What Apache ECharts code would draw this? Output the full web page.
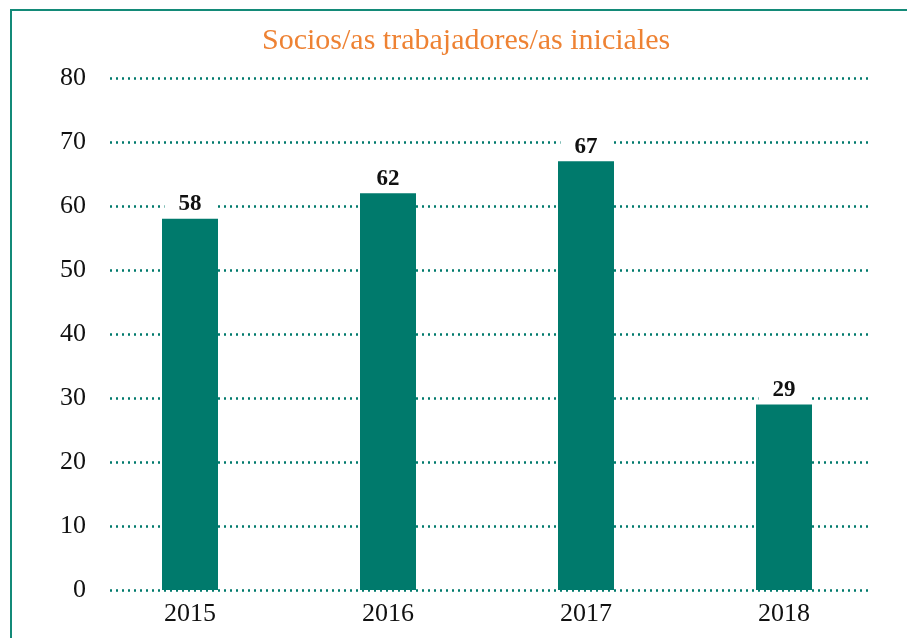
<!DOCTYPE html>
<html>
<head>
<meta charset="utf-8">
<script src="https://cdn.jsdelivr.net/npm/echarts@6/dist/echarts.min.js"></script>
<style>
  html, body { margin: 0; padding: 0; background: #fff; }
  #chart { width: 907px; height: 638px; }
</style>
</head>
<body>
<div id="chart"></div>
<script>
var years = ['2015', '2016', '2017', '2018']
var socios = [58, 62, 67, 29]
var yTicks = [0, 10, 20, 30, 40, 50, 60, 70, 80]

var TEAL = '#007A6C'
var ORANGE = '#EE8233'
var SERIF = '"Liberation Serif", "DejaVu Serif", serif'

var chart = echarts.init(document.getElementById('chart'))

var option = {
  backgroundColor: '#fff',
  animation: false,
  title: {
    text: 'Socios/as trabajadores/as iniciales',
    left: 257,
    top: 21,
    textStyle: { color: ORANGE, fontFamily: SERIF, fontSize: 30, fontWeight: 'normal' }
  },
  graphic: [{
    type: 'rect',
    shape: { x: 11, y: 10, width: 920, height: 660 },
    style: { fill: 'none', stroke: '#138a78', lineWidth: 2 },
    silent: true
  }],
  grid: [
    { left: 110, right: 39, top: 78, bottom: 48 },
    { left: 91, right: 24, top: 78, bottom: 48 }
  ],
  xAxis: [
    { gridIndex: 0, type: 'category', data: years, show: false },
    {
      gridIndex: 1,
      type: 'category',
      data: years,
      axisLine: { show: false },
      axisTick: { show: false },
      axisLabel: { color: '#111', fontFamily: SERIF, fontSize: 26, margin: 11 }
    }
  ],
  yAxis: [
    {
      gridIndex: 0,
      type: 'value',
      min: yTicks[0],
      max: yTicks[yTicks.length - 1],
      interval: 10,
      axisLine: { show: false },
      axisTick: { show: false },
      axisLabel: { color: '#111', fontFamily: SERIF, fontSize: 26, margin: 24 },
      splitLine: { lineStyle: { color: TEAL, width: 2.5, type: [2, 4] } }
    },
    {
      gridIndex: 1,
      type: 'value',
      min: yTicks[0],
      max: yTicks[yTicks.length - 1],
      interval: 10,
      show: false,
      splitLine: { show: false }
    }
  ],
  series: [{
    name: 'Socios/as trabajadores/as iniciales',
    type: 'bar',
    xAxisIndex: 1,
    yAxisIndex: 1,
    data: socios,
    barWidth: 56,
    itemStyle: { color: TEAL },
    label: {
      show: true,
      position: 'top',
      distance: 3,
      color: '#111',
      fontFamily: SERIF,
      fontSize: 23,
      fontWeight: 'bold',
      backgroundColor: '#fff',
      padding: [1, 14, 0, 14]
    }
  }]
}

chart.setOption(option)
</script>
</body>
</html>
